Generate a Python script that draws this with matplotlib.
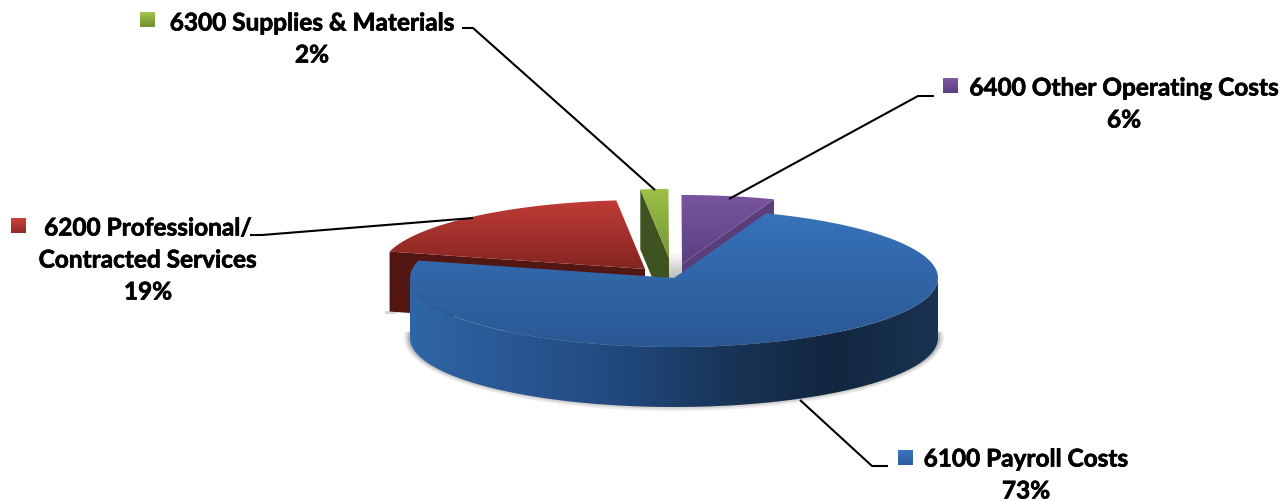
import numpy as np
import matplotlib
matplotlib.use("Agg")
import matplotlib.pyplot as plt
import matplotlib.patheffects as pe
from matplotlib.patches import Polygon, Rectangle
from matplotlib.colors import LinearSegmentedColormap as LSC

# ---- data
categories = ["6100 Payroll Costs", "6200 Professional/\nContracted Services",
              "6300 Supplies & Materials", "6400 Other Operating Costs"]
shares = [73.4, 19.2, 1.7, 5.7]

# ---- style
start_angle = 69.6
cx, cy, rx, ry, depth = 674, 278, 264, 69, 60
explode = [(0, 0), (-29, -9), (-5, -20), (8, -14)]
top_cols = [("#3772ba", "#2a5893"), ("#c03b36", "#842521"),
            ("#9cc044", "#76963a"), ("#79559f", "#5a3f80")]
side_cols = ["#234a7e", "#521613", "#3f5320", "#5a3e7a"]
key_cols = [("#3a76c0", "#2c5c9a"), ("#d0403c", "#8e2b28"),
            ("#a2c64a", "#6f8e34"), ("#7f59a6", "#5a3f80")]
label_pos = [(1026, 459), (148, 228), (312, 23), (1124, 88)]
key_pos = [(898, 450), (11, 218), (140, 12), (943, 78)]
leaders = [[(800, 400), (872, 466), (888, 466)],
           [(473, 218), (262, 235), (250, 235)],
           [(462, 28), (473, 28), (655, 190)],
           [(729, 199), (918, 96), (934, 96)]]
font = "Lato"
fs = 17.55

fig = plt.figure(figsize=(12.82, 5.01), dpi=100, facecolor="white")
ax = fig.add_axes([0, 0, 1, 1])
ax.set_xlim(0, 1282)
ax.set_ylim(501, 0)
ax.axis("off")


def pt(a, off=(0, 0), dz=0):
    a = np.radians(a)
    return np.column_stack([cx + off[0] + rx * np.cos(a),
                            cy + off[1] - ry * np.sin(a) + dz])


def grad(path_xy, c0, c1, horizontal=False, z=1, cmap=None):
    cm = cmap or LSC.from_list("g", [c0, c1])
    xs, ys = path_xy[:, 0], path_xy[:, 1]
    box = [xs.min(), xs.max(), ys.max(), ys.min()]
    arr = np.linspace(0, 1, 256)
    arr = arr[None, :] if horizontal else arr[:, None]
    im = ax.imshow(arr, extent=box, cmap=cm, aspect="auto", zorder=z,
                   interpolation="bilinear")
    p = Polygon(path_xy, closed=True, transform=ax.transData, fc="none", ec="none")
    ax.add_patch(p)
    im.set_clip_path(p)


# wedge angles, clockwise from start
spans = np.array(shares) / sum(shares) * 360
ends = start_angle - np.cumsum(spans)
starts = ends + spans

# soft shadow beneath the blue slice
t_full = np.linspace(175, 365, 200)
for grow, al in [(6, .10), (4, .16), (2, .25)]:
    a = np.radians(t_full)
    xy = np.column_stack([cx + (rx + grow) * np.cos(a),
                          cy + depth - (ry + grow - 2) * np.sin(a)])
    ax.add_patch(Polygon(xy, fc="#555555", ec="none", alpha=al, zorder=1))
ax.add_patch(Rectangle((385, 311), 12, 3, fc="#999999", ec="none", alpha=.4, zorder=1))

# soft shadow around the centre gap
gap = np.array([[666, 252], [684, 252], [684, 279], [666, 279]], float)
grad(gap, "#ffffff", "#b8b8b8", z=1.5)

# red, green, purple slices
order = [3, 1, 2]
zs = {1: 3, 2: 4, 3: 2}
for i in order:
    off = explode[i]
    z = zs[i]
    arc = pt(np.linspace(starts[i], ends[i], 60), off)
    apex = np.array([[cx + off[0], cy + off[1]]], float)
    top = np.vstack([arc, apex])
    # front-facing cut face of the slice
    hi = pt(starts[i], off) if i != 3 else pt(ends[i], off)
    face = np.vstack([hi, apex, apex + [0, depth], hi + [0, depth]])
    ax.add_patch(Polygon(face, fc=side_cols[i], ec="none", zorder=z))
    grad(top, *top_cols[i], z=z + .1)

# blue slice
front = np.linspace(180, 360, 240)
side = np.vstack([pt(front), pt(front[::-1], dz=depth)])
side_cm = LSC.from_list("s", [(0, "#2f66a8"), (.10, "#2c5e9c"), (.38, "#224a80"),
                              (.62, "#183355"), (.80, "#12263f"), (1, "#1a3352")])
grad(side, None, None, horizontal=True, z=5, cmap=side_cm)
arc = pt(np.linspace(starts[0], ends[0], 400))
top = np.vstack([arc, [[cx, cy]]])
grad(top, *top_cols[0], z=5.1)

# leader lines
for seg in leaders:
    xs, ys = zip(*seg)
    ax.plot(xs, ys, color="black", lw=1.5, zorder=6, solid_capstyle="butt",
            solid_joinstyle="miter")

# labels and keys
text_kw = dict(family=font, fontweight="bold", fontsize=fs, color="black", zorder=7,
               path_effects=[pe.withStroke(linewidth=0.5, foreground="black")])
line_h = 32
for i, cat in enumerate(categories):
    lines = cat.split("\n") + [f"{shares[i]:.0f}%"]
    x, y = label_pos[i]
    for k, s in enumerate(lines):
        ax.text(x, y + k * line_h, s, ha="center", va="center", **text_kw)
    kx, ky = key_pos[i]
    sq = np.array([[kx, ky], [kx + 15, ky], [kx + 15, ky + 15], [kx, ky + 15]], float)
    grad(sq, *key_cols[i], z=7)

ax.set_xlim(0, 1282)
ax.set_ylim(501, 0)
fig.savefig("out.png", dpi=100, facecolor="white")
